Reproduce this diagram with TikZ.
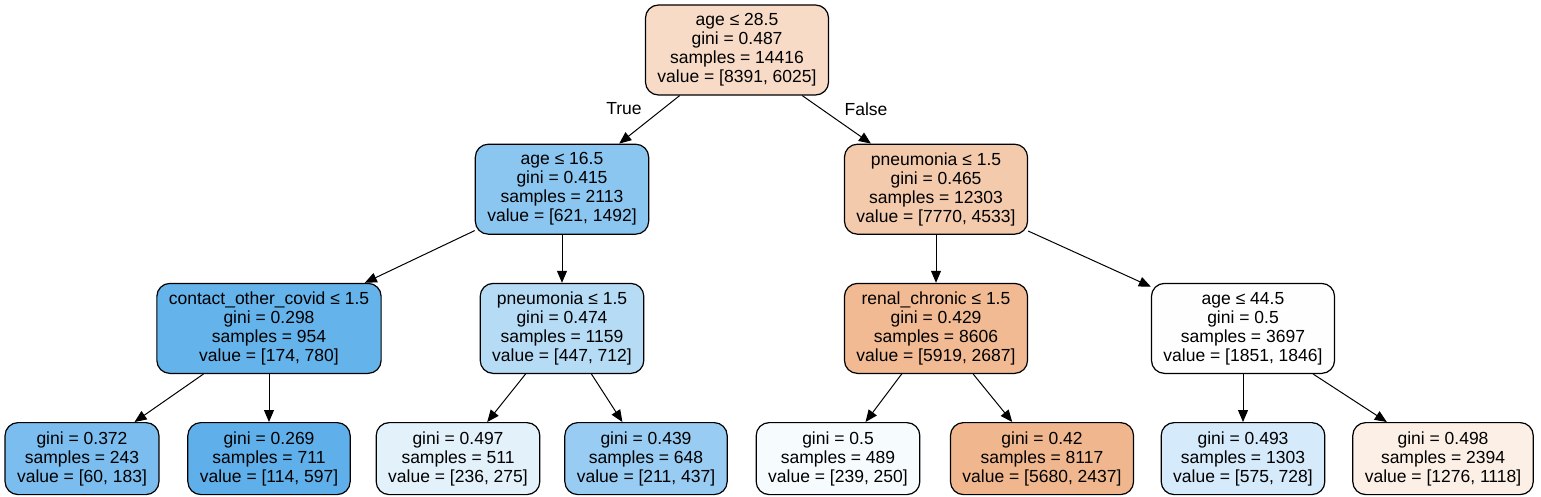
\documentclass[tikz,border=0pt]{standalone}
\usepackage{fontspec}
\setmainfont{Liberation Sans}
\usepackage{xcolor}
\usepackage{tikz}
\usetikzlibrary{positioning,arrows.meta}
\definecolor{rootc}{RGB}{248,219,199}
\definecolor{youngc}{RGB}{139,198,240}
\definecolor{pneuoldc}{RGB}{244,202,172}
\definecolor{contactc}{RGB}{101,179,235}
\definecolor{pneuyoungc}{RGB}{181,219,245}
\definecolor{renalc}{RGB}{241,186,147}
\definecolor{midagec}{RGB}{255,254,254}
\definecolor{leafac}{RGB}{122,189,238}
\definecolor{leafbc}{RGB}{95,176,234}
\definecolor{leafcc}{RGB}{227,241,251}
\definecolor{leafdc}{RGB}{153,204,242}
\definecolor{leafec}{RGB}{246,251,254}
\definecolor{leaffc}{RGB}{240,183,142}
\definecolor{leafgc}{RGB}{213,234,250}
\definecolor{leafhc}{RGB}{252,239,230}
\tikzstyle{split}=[rectangle, draw=black, rounded corners=13pt, line width=1.2pt,
        align=center, inner xsep=12pt, inner ysep=0pt, minimum height=90pt]
\tikzstyle{leaf}=[split, minimum height=72pt]
\tikzstyle{edge}=[-{Triangle[length=12pt,width=10pt]}, line width=1pt]

\begin{document}
\begin{tikzpicture}[x=1pt, y=1pt, node distance=48pt, font=\fontsize{17.5}{19}\selectfont]
        \useasboundingbox (0,0) rectangle (1541,-497);
        \node (Root) [split, fill=rootc] at (737,-50)
          {age ≤ 28.5\\gini = 0.487\\samples = 14416\\value = [8391, 6025]};
        \node (Young) [split, fill=youngc, below=of Root, xshift=-175pt]
          {age ≤ 16.5\\gini = 0.415\\samples = 2113\\value = [621, 1492]};
        \node (PneuOld) [split, fill=pneuoldc, below=of Root, xshift=199pt]
          {pneumonia ≤ 1.5\\gini = 0.465\\samples = 12303\\value = [7770, 4533]};
        \node (Contact) [split, fill=contactc, below=of Young, xshift=-293pt]
          {contact\_other\_covid ≤ 1.5\\gini = 0.298\\samples = 954\\value = [174, 780]};
        \node (PneuYoung) [split, fill=pneuyoungc, below=of Young]
          {pneumonia ≤ 1.5\\gini = 0.474\\samples = 1159\\value = [447, 712]};
        \node (Renal) [split, fill=renalc, below=of PneuOld]
          {renal\_chronic ≤ 1.5\\gini = 0.429\\samples = 8606\\value = [5919, 2687]};
        \node (MidAge) [split, fill=midagec, below=of PneuOld, xshift=307pt]
          {age ≤ 44.5\\gini = 0.5\\samples = 3697\\value = [1851, 1846]};
        % leaves
        \node (LeafA) [leaf, fill=leafac, below=of Contact, xshift=-187pt]
          {gini = 0.372\\samples = 243\\value = [60, 183]};
        \node (LeafB) [leaf, fill=leafbc, below=of Contact]
          {gini = 0.269\\samples = 711\\value = [114, 597]};
        \node (LeafC) [leaf, fill=leafcc, below=of PneuYoung, xshift=-104pt]
          {gini = 0.497\\samples = 511\\value = [236, 275]};
        \node (LeafD) [leaf, fill=leafdc, below=of PneuYoung, xshift=84pt]
          {gini = 0.439\\samples = 648\\value = [211, 437]};
        \node (LeafE) [leaf, fill=leafec, below=of Renal, xshift=-98pt]
          {gini = 0.5\\samples = 489\\value = [239, 250]};
        \node (LeafF) [leaf, fill=leaffc, below=of Renal, xshift=106pt]
          {gini = 0.42\\samples = 8117\\value = [5680, 2437]};
        \node (LeafG) [leaf, fill=leafgc, below=of MidAge]
          {gini = 0.493\\samples = 1303\\value = [575, 728]};
        \node (LeafH) [leaf, fill=leafhc, below=of MidAge, xshift=200pt]
          {gini = 0.498\\samples = 2394\\value = [1276, 1118]};
        % edges
        \draw[edge] (Root) -- (Young);
        \draw[edge] (Root) -- (PneuOld);
        \draw[edge] (Young) -- (Contact);
        \draw[edge] (Young) -- (PneuYoung);
        \draw[edge] (PneuOld) -- (Renal);
        \draw[edge] (PneuOld) -- (MidAge);
        \draw[edge] (Contact) -- (LeafA);
        \draw[edge] (Contact) -- (LeafB);
        \draw[edge] (PneuYoung) -- (LeafC);
        \draw[edge] (PneuYoung) -- (LeafD);
        \draw[edge] (Renal) -- (LeafE);
        \draw[edge] (Renal) -- (LeafF);
        \draw[edge] (MidAge) -- (LeafG);
        \draw[edge] (MidAge) -- (LeafH);
        \node (TrueLabel) at (624,-109) {True};
        \node (FalseLabel) at (866,-109) {False};
      \end{tikzpicture}
\end{document}
